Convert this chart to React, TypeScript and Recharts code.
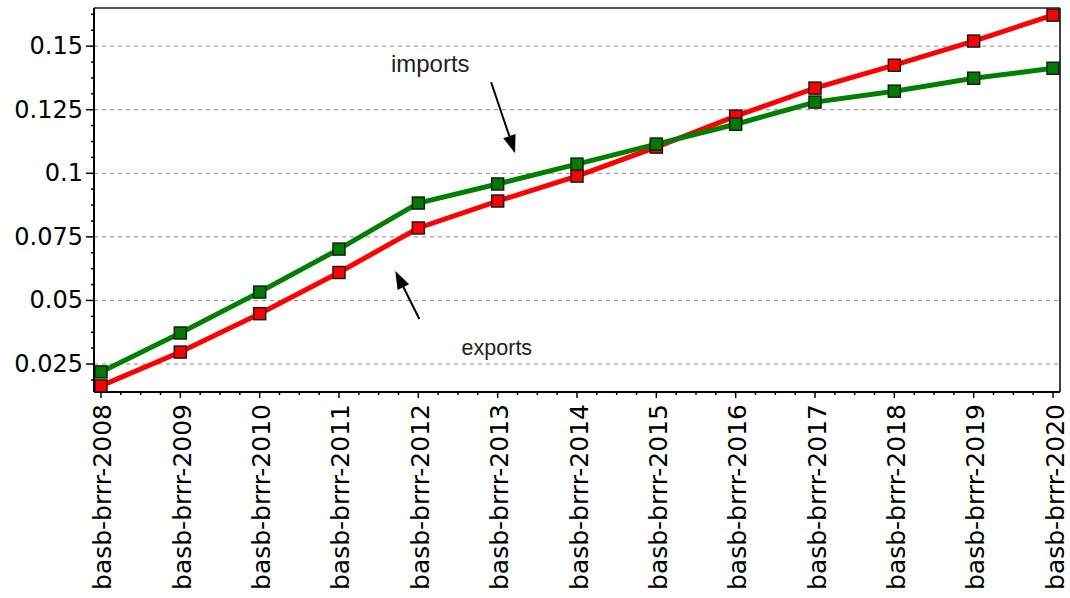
import { LineChart, Line, XAxis, YAxis, ReferenceLine, ReferenceDot } from 'recharts';

const categories = [
  'basb-brrr-2008', 'basb-brrr-2009', 'basb-brrr-2010', 'basb-brrr-2011', 'basb-brrr-2012',
  'basb-brrr-2013', 'basb-brrr-2014', 'basb-brrr-2015', 'basb-brrr-2016', 'basb-brrr-2017',
  'basb-brrr-2018', 'basb-brrr-2019', 'basb-brrr-2020',
];
const imports = [0.0219, 0.0372, 0.0533, 0.0702, 0.0883, 0.0958, 0.1036, 0.1115, 0.1193, 0.1280, 0.1323, 0.1374, 0.1413];
const exports = [0.0164, 0.0297, 0.0448, 0.0610, 0.0785, 0.0891, 0.0989, 0.1103, 0.1225, 0.1335, 0.1425, 0.1520, 0.1622];
const yMajor = [0.025, 0.05, 0.075, 0.1, 0.125, 0.15];

const notes = [
  { text: 'imports', x: 4.15, y: 0.1398, size: 24 },
  { text: 'exports', x: 4.99, y: 0.0285, size: 21.5 },
];
const arrows = [
  { x: 5.22, y: 0.1079, dx: -24, dy: -71 },
  { x: 3.71, y: 0.0616, dx: 24, dy: 48 },
];

const X_MIN = -0.0882;
const X_MAX = 12.0882;
const Y_MIN = 0.014;
const Y_MAX = 0.165;

const rows = categories.map((name, i) => ({ idx: i, name, imports: imports[i], exports: exports[i] }));

// quarter steps for minor ticks
const xTicks: number[] = [];
for (let i = 0; i <= 48; i++) xTicks.push(i / 4);
const yTicks: number[] = [];
for (let v = 0.01875; v < Y_MAX; v += 0.00625) yTicks.push(Math.round(v * 1e6) / 1e6);

const isMajorY = (v: number) => yMajor.some((m) => Math.abs(m - v) < 1e-6);

const YTick = ({ x, y, payload }: any) => {
  const major = isMajorY(payload.value);
  return (
    <g>
      <line x1={x - (major ? 8 : 3)} y1={y} x2={x} y2={y} stroke="#000" strokeWidth={1.5} />
      {major && (
        <text x={x - 11} y={y} textAnchor="end" dominantBaseline="central" fontFamily="DejaVu Sans" fontSize={24} fill="#000">
          {String(payload.value)}
        </text>
      )}
    </g>
  );
};

const XTick = ({ x, y, payload }: any) => {
  const major = Number.isInteger(payload.value);
  const ty = y + 12;
  return (
    <g>
      <line x1={x} y1={y} x2={x} y2={y + (major ? 6 : 3)} stroke="#000" strokeWidth={1.5} />
      {major && (
        <text x={x} y={ty} dy={2} transform={`rotate(-90, ${x}, ${ty})`} textAnchor="end" dominantBaseline="central"
          fontFamily="DejaVu Sans" fontSize={25} fill="#000">
          {categories[payload.value]}
        </text>
      )}
    </g>
  );
};

const square = (fill: string) => (p: any) => (
  <rect key={p.index} x={p.cx - 6} y={p.cy - 6} width={12} height={12} fill={fill} stroke="#1a1a1a" strokeWidth={1.5} />
);

const arrowShape = (dx: number, dy: number) => (p: any) => {
  const tx = p.cx, ty = p.cy;
  const len = Math.hypot(dx, dy);
  const ux = -dx / len, uy = -dy / len;
  const nx = -uy, ny = ux;
  const L = 18, w = 6.5;
  const bx = tx - ux * L, by = ty - uy * L;
  return (
    <g>
      <line x1={tx + dx} y1={ty + dy} x2={bx} y2={by} stroke="#000" strokeWidth={2} />
      <polygon points={`${tx},${ty} ${bx + nx * w},${by + ny * w} ${bx - nx * w},${by - ny * w}`} fill="#000" />
    </g>
  );
};

const noteShape = (text: string, size: number) => (p: any) => (
  <text x={p.cx} y={p.cy} textAnchor="middle" fontFamily="Liberation Sans" fontSize={size} fill="#222">
    {text}
  </text>
);

export default function App() {
  return (
    <div style={{ position: 'absolute', left: 0, top: 0, background: '#fff' }}>
      <LineChart width={1070} height={598} data={rows} margin={{ top: 8, right: 10, left: 0, bottom: 0 }}>
        {yMajor.map((v) => (
          <ReferenceLine key={v} y={v} stroke="#8a8a8a" strokeDasharray="4 4" strokeWidth={1} />
        ))}
        <ReferenceLine y={Y_MAX} stroke="#555" strokeWidth={2} ifOverflow="visible" />
        <ReferenceLine x={X_MAX} stroke="#000" strokeWidth={1.5} ifOverflow="visible" />
        <XAxis
          dataKey="idx"
          type="number"
          domain={[X_MIN, X_MAX]}
          ticks={xTicks}
          interval={0}
          height={206}
          tickSize={0}
          tickMargin={0}
          tickLine={false}
          axisLine={{ stroke: '#000', strokeWidth: 2 }}
          tick={<XTick />}
          allowDataOverflow
        />
        <YAxis
          type="number"
          domain={[Y_MIN, Y_MAX]}
          ticks={yTicks}
          interval={0}
          width={94}
          tickSize={0}
          tickMargin={0}
          tickLine={false}
          axisLine={{ stroke: '#000', strokeWidth: 2 }}
          tick={<YTick />}
          allowDataOverflow
        />
        <Line dataKey="exports" stroke="#ff0000" strokeWidth={5} dot={square('#ff0000')} isAnimationActive={false} />
        <Line dataKey="imports" stroke="#008000" strokeWidth={5} dot={square('#007a00')} isAnimationActive={false} />
        {arrows.map((a, i) => (
          <ReferenceDot key={`a${i}`} x={a.x} y={a.y} r={0} shape={arrowShape(a.dx, a.dy)} ifOverflow="visible" />
        ))}
        {notes.map((n) => (
          <ReferenceDot key={n.text} x={n.x} y={n.y} r={0} shape={noteShape(n.text, n.size)} ifOverflow="visible" />
        ))}
      </LineChart>
    </div>
  );
}
